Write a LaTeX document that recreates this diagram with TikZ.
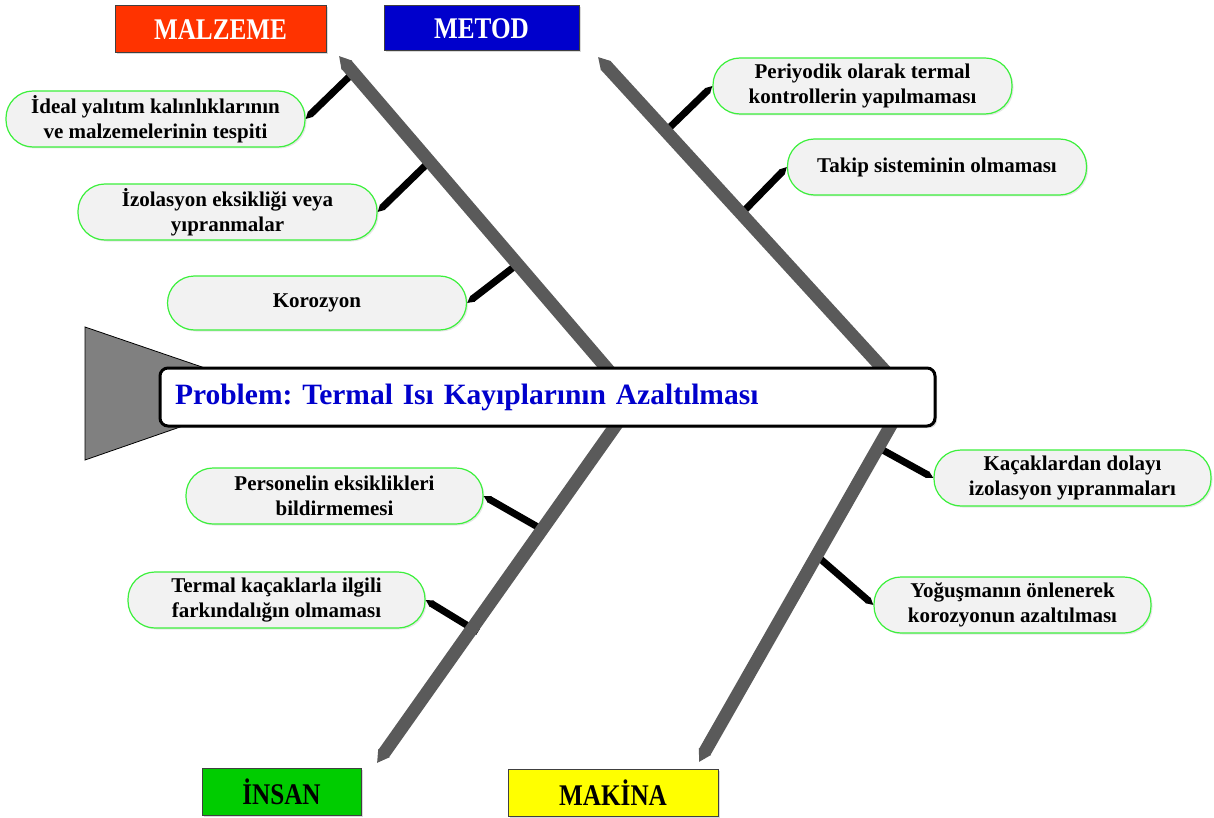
\documentclass[tikz,border=0pt]{standalone}
\usepackage{fontspec}
\setmainfont{Liberation Serif}
\newfontfamily\catfont{Liberation Serif}[FakeStretch=0.84]
\usetikzlibrary{arrows.meta,shadows}
\definecolor{bonegray}{HTML}{5A5A5A}
\definecolor{tailgray}{HTML}{808080}
\definecolor{causefill}{HTML}{F2F2F2}
\definecolor{causeline}{HTML}{3CF03C}
\definecolor{malzred}{HTML}{FF3300}
\definecolor{metodblue}{HTML}{0000CC}
\definecolor{insangreen}{HTML}{00CC00}
\definecolor{makyellow}{HTML}{FFFF00}
\definecolor{titleblue}{HTML}{0000CC}
\tikzset{
  bone/.style={draw=bonegray, line width=13pt, -{Triangle[length=12pt,width=13pt]}},
  rib/.style={draw=black, line width=7pt, -{Triangle[length=7pt,width=7pt]}},
  cause/.style={draw=causeline, line width=1.2pt, fill=causefill, rounded corners=27pt,
    minimum width=299pt, minimum height=56pt, align=center, inner sep=0pt,
    font=\fontsize{21}{25}\selectfont\bfseries,
    drop shadow={shadow xshift=1.5pt, shadow yshift=-1.5pt, opacity=0.2}},
  catbox/.style={draw=black!75, line width=1pt, minimum height=47pt, inner sep=0pt,
    font=\catfont\fontsize{30}{30}\selectfont\bfseries,
    drop shadow={shadow xshift=1.5pt, shadow yshift=-1.5pt, opacity=0.3}},
}
\begin{document}
\frenchspacing
\begin{tikzpicture}[x=1pt,y=-1pt]
			%%%%% START %%%%%
			\useasboundingbox (0,0) rectangle (1214,818);

			% tail
			\draw[fill=tailgray, line width=0.8pt] (85,327) -- (278,393) -- (85,460) -- cycle;

			% bone ends and rib points
			\coordinate (malTip) at (339,56);   \coordinate (malEnd) at (610,372);
			\coordinate (metTip) at (598,57);   \coordinate (metEnd) at (886,372);
			\coordinate (insTip) at (377,763);  \coordinate (insEnd) at (621,418);
			\coordinate (makTip) at (699,762);  \coordinate (makEnd) at (895,418);
			\coordinate (r1) at (353,73);
			\coordinate (r2) at (430,161);
			\coordinate (r3) at (519,263);
			\coordinate (r4) at (666,131);
			\coordinate (r5) at (742,213);
			\coordinate (r6) at (543,530);
			\coordinate (r7) at (478,632);
			\coordinate (r8) at (879,448);
			\coordinate (r9) at (817,556);

			% causes
			\node[cause] (c1) at (155.5,119) {İdeal yalıtım kalınlıklarının\\ve malzemelerinin tespiti};
			\node[cause] (c2) at (227.5,212) {İzolasyon eksikliği veya\\yıpranmalar};
			\node[cause, minimum height=54pt] (c3) at (317,303) {Korozyon};
			\node[cause] (c4) at (862.5,86) {Periyodik olarak termal\\kontrollerin yapılmaması};
			\node[cause] (c5) at (937,167) {Takip sisteminin olmaması};
			\node[cause, minimum width=297pt] (c6) at (334.5,496) {Personelin eksiklikleri\\bildirmemesi};
			\node[cause, minimum width=297pt] (c7) at (276.5,600) {Termal kaçaklarla ilgili\\farkındalığın olmaması};
			\node[cause, minimum width=277pt] (c8) at (1072.5,478) {Kaçaklardan dolayı\\izolasyon yıpranmaları};
			\node[cause, minimum width=277pt] (c9) at (1012.5,605) {Yoğuşmanın önlenerek\\korozyonun azaltılması};

			% ribs
			\draw[rib] (r1) -- (c1.east);
			\draw[rib] (r2) -- (c2.east);
			\draw[rib] (r3) -- (c3.east);
			\draw[rib] (r4) -- (c4.west);
			\draw[rib] (r5) -- (c5.west);
			\draw[rib] (r6) -- (c6.east);
			\draw[rib] (r7) -- (c7.east);
			\draw[rib] (r8) -- (c8.west);
			\draw[rib] (r9) -- (c9.west);

			% bones
			\draw[bone] (malEnd) -- (malTip);
			\draw[bone] (metEnd) -- (metTip);
			\draw[bone] (insEnd) -- (insTip);
			\draw[bone] (makEnd) -- (makTip);

			% problem
			\node[draw=black, line width=3pt, fill=white, rounded corners=8pt,
				minimum width=775pt, minimum height=58pt, inner xsep=15pt, text width=745pt,
				align=left, text=titleblue, font=\fontsize{29.5}{32}\selectfont\bfseries,
				drop shadow={shadow xshift=2pt, shadow yshift=-2pt, opacity=0.3}]
				(prob) at (547.5,397) {Problem: Termal Isı Kayıplarının Azaltılması};

			% categories
			\node[catbox, fill=malzred, text=white, minimum width=211pt] (mal) at (220.5,29.5) {MALZEME};
			\node[catbox, fill=metodblue, text=white, minimum width=195pt, minimum height=45pt] (met) at (481.5,28.5) {METOD};
			\node[catbox, fill=insangreen, minimum width=159pt] (ins) at (281.5,791.5) {İNSAN};
			\node[catbox, fill=makyellow, minimum width=210pt] (mak) at (613,792.5) {MAKİNA};
			%%%%% END %%%%%
\end{tikzpicture}
\end{document}
